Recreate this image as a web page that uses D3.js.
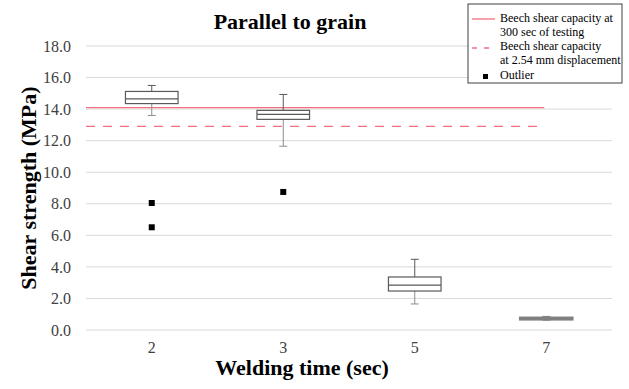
<!DOCTYPE html>
<html>
<head>
<meta charset="utf-8">
<script src="https://cdn.jsdelivr.net/npm/d3@7"></script>
<style>
  body { margin: 0; background: white; }
  svg text { font-family: "Liberation Serif", "Times New Roman", serif; }
</style>
</head>
<body>
<div id="chart"></div>
<script>
// welding time categories and box plot stats (MPa)
const categories = ["2", "3", "5", "7"];
const whiskerLow = [13.6, 11.65, 1.65, 0.62];
const q1 = [14.35, 13.35, 2.47, 0.66];
const median = [14.65, 13.67, 2.85, 0.72];
const q3 = [15.12, 13.92, 3.36, 0.79];
const whiskerHigh = [15.5, 14.93, 4.48, 0.86];
const outlierCats = ["2", "2", "3"];
const outlierVals = [8.05, 6.51, 8.75];
const yTicks = [0, 2, 4, 6, 8, 10, 12, 14, 16, 18];
const capacity300 = 14.1;
const capacity254 = 12.9;

const width = 629, height = 389;
const margin = { top: 46, right: 17, bottom: 59, left: 86 };

const svg = d3.select("#chart").append("svg")
  .attr("width", width)
  .attr("height", height);

const x = d3.scaleBand().domain(categories).range([margin.left, width - margin.right]);
const y = d3.scaleLinear().domain([0, 18]).range([height - margin.bottom, margin.top]);

// gridlines
svg.append("g")
  .selectAll("line")
  .data(yTicks)
  .enter().append("line")
  .attr("x1", margin.left)
  .attr("x2", width - margin.right)
  .attr("y1", d => y(d))
  .attr("y2", d => y(d))
  .attr("stroke", "#d9d9d9")
  .attr("stroke-width", 1);

// y axis labels
const yAxis = d3.axisLeft(y).tickValues(yTicks).tickFormat(d3.format(".1f")).tickSize(0).tickPadding(15);
const gY = svg.append("g")
  .attr("transform", `translate(${margin.left},0)`)
  .call(yAxis);
gY.select(".domain").remove();
gY.selectAll("text")
  .style("font-size", "16px")
  .attr("fill", "#404040");

// x axis labels
const xAxis = d3.axisBottom(x).tickSize(0).tickPadding(12);
const gX = svg.append("g")
  .attr("transform", `translate(0,${height - margin.bottom})`)
  .call(xAxis);
gX.select(".domain").remove();
gX.selectAll("text")
  .style("font-size", "16px")
  .attr("fill", "#404040");

// reference lines
const lineEnd = x("7") + x.bandwidth() / 2 - 2;
svg.append("line")
  .attr("x1", margin.left).attr("x2", lineEnd)
  .attr("y1", y(capacity300)).attr("y2", y(capacity300))
  .attr("stroke", "#f07080").attr("stroke-width", 1.3);
svg.append("line")
  .attr("x1", margin.left).attr("x2", lineEnd)
  .attr("y1", y(capacity254)).attr("y2", y(capacity254))
  .attr("stroke", "#f07080").attr("stroke-width", 1.3)
  .attr("stroke-dasharray", "9,8");

// box plots
const boxW = x.bandwidth() * 0.4;
const stats = categories.map((c, i) => ({
  cat: c, lo: whiskerLow[i], q1: q1[i], med: median[i], q3: q3[i], hi: whiskerHigh[i]
}));
const cx = d => x(d.cat) + x.bandwidth() / 2;
const boxColor = d => d.cat === "7" ? "#808080" : "#595959";

const boxes = svg.append("g").selectAll("g")
  .data(stats)
  .enter().append("g");

boxes.append("line")
  .attr("x1", cx).attr("x2", cx)
  .attr("y1", d => y(d.hi)).attr("y2", d => y(d.q3))
  .attr("stroke", boxColor);
boxes.append("line")
  .attr("x1", cx).attr("x2", cx)
  .attr("y1", d => y(d.q1)).attr("y2", d => y(d.lo))
  .attr("stroke", "#8c8c8c");
boxes.append("line")
  .attr("x1", d => cx(d) - 4).attr("x2", d => cx(d) + 4)
  .attr("y1", d => y(d.hi)).attr("y2", d => y(d.hi))
  .attr("stroke", boxColor);
boxes.append("line")
  .attr("x1", d => cx(d) - 4).attr("x2", d => cx(d) + 4)
  .attr("y1", d => y(d.lo)).attr("y2", d => y(d.lo))
  .attr("stroke", "#8c8c8c");
boxes.append("rect")
  .attr("x", d => cx(d) - boxW / 2)
  .attr("y", d => y(d.q3))
  .attr("width", boxW)
  .attr("height", d => y(d.q1) - y(d.q3))
  .attr("fill", "white")
  .attr("stroke", boxColor)
  .attr("stroke-width", d => d.cat === "7" ? 2 : 1.2);
boxes.append("line")
  .attr("x1", d => cx(d) - boxW / 2).attr("x2", d => cx(d) + boxW / 2)
  .attr("y1", d => y(d.med)).attr("y2", d => y(d.med))
  .attr("stroke", boxColor)
  .attr("stroke-width", 1.2);

// outliers
svg.append("g").selectAll("rect")
  .data(outlierVals.map((v, i) => ({ cat: outlierCats[i], v })))
  .enter().append("rect")
  .attr("x", d => cx(d) - 3)
  .attr("y", d => y(d.v) - 3)
  .attr("width", 6).attr("height", 6)
  .attr("fill", "black");

// titles
svg.append("text")
  .attr("x", 290).attr("y", 29)
  .attr("text-anchor", "middle")
  .style("font-size", "22px").style("font-weight", "bold")
  .text("Parallel to grain");
svg.append("text")
  .attr("x", 302).attr("y", 375)
  .attr("text-anchor", "middle")
  .style("font-size", "22px").style("font-weight", "bold")
  .text("Welding time (sec)");
svg.append("text")
  .attr("transform", "translate(36,188) rotate(-90)")
  .attr("text-anchor", "middle")
  .style("font-size", "22px").style("font-weight", "bold")
  .text("Shear strength (MPa)");

// legend
const lg = svg.append("g").attr("transform", "translate(468,4)");
lg.append("rect")
  .attr("width", 154).attr("height", 79)
  .attr("fill", "white").attr("stroke", "#404040").attr("stroke-width", 1);
lg.append("line").attr("x1", 4).attr("x2", 27).attr("y1", 15).attr("y2", 15)
  .attr("stroke", "#f07080").attr("stroke-width", 1.3);
lg.append("line").attr("x1", 4).attr("x2", 27).attr("y1", 44).attr("y2", 44)
  .attr("stroke", "#f07080").attr("stroke-width", 1.3).attr("stroke-dasharray", "5,7");
lg.append("rect").attr("x", 15).attr("y", 70).attr("width", 5).attr("height", 5).attr("fill", "black");
const legendLines = [
  ["Beech shear capacity at", 18],
  ["300 sec of testing", 32],
  ["Beech shear capacity", 46],
  ["at 2.54 mm displacement", 60],
  ["Outlier", 75]
];
lg.selectAll("text.leg")
  .data(legendLines)
  .enter().append("text")
  .attr("class", "leg")
  .attr("x", 32)
  .attr("y", d => d[1])
  .style("font-size", "12px")
  .text(d => d[0]);
</script>
</body>
</html>
